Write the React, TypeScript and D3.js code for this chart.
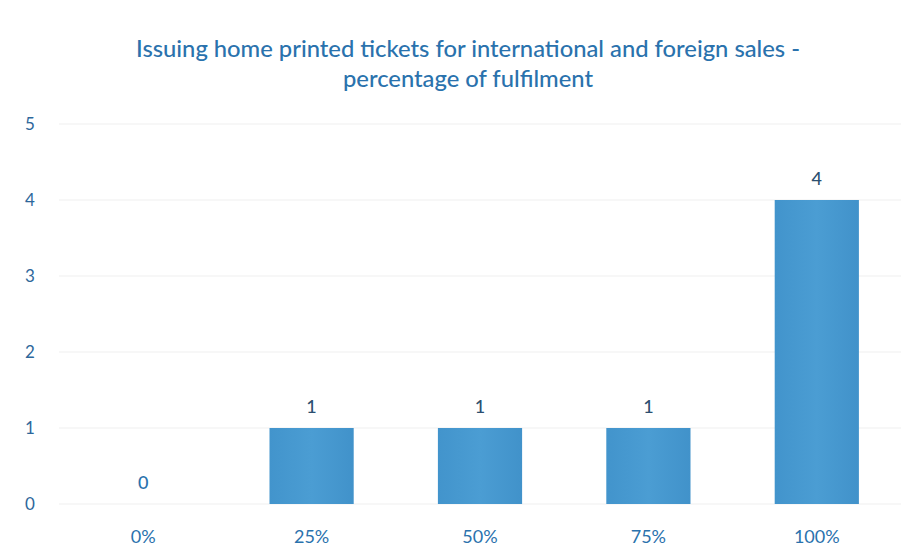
import React, { useRef, useEffect } from 'react';
import * as d3 from 'd3';

const categories = ['0%', '25%', '50%', '75%', '100%'];
const counts = [0, 1, 1, 1, 4];
const yTicks = [0, 1, 2, 3, 4, 5];
const titleLines = [
  'Issuing home printed tickets for international and foreign sales -',
  'percentage of fulfilment',
];
const titleWidths = [664, 250];

const App = () => {
  const chartRef = useRef<SVGSVGElement>(null);

  useEffect(() => {
    const width = 923;
    const height = 558;
    const margin = { top: 124, right: 22, bottom: 54, left: 59 };

    const svg = d3.select(chartRef.current);
    svg.selectAll('*').remove();

    const data = categories.map((c, i) => ({ cat: c, value: counts[i] }));

    const x = d3
      .scaleBand()
      .domain(categories)
      .range([margin.left, width - margin.right])
      .paddingInner(0.5)
      .paddingOuter(0.25);

    const y = d3
      .scaleLinear()
      .domain([0, 5])
      .range([height - margin.bottom, margin.top]);

    const defs = svg.append('defs');
    const grad = defs
      .append('linearGradient')
      .attr('id', 'barGrad')
      .attr('x1', 0)
      .attr('x2', 1)
      .attr('y1', 0)
      .attr('y2', 0);
    grad.append('stop').attr('offset', '0%').attr('stop-color', '#4294cc');
    grad.append('stop').attr('offset', '50%').attr('stop-color', '#4b9dd3');
    grad.append('stop').attr('offset', '100%').attr('stop-color', '#4192ca');

    svg.append('rect').attr('width', width).attr('height', height).attr('fill', '#ffffff');

    // title
    svg
      .append('g')
      .selectAll('text')
      .data(titleLines)
      .enter()
      .append('text')
      .attr('x', 468)
      .attr('y', (d, i) => 57 + i * 30)
      .attr('text-anchor', 'middle')
      .attr('textLength', (d, i) => titleWidths[i])
      .attr('lengthAdjust', 'spacingAndGlyphs')
      .style('font-family', 'Lato, sans-serif')
      .style('font-size', '23px')
      .style('font-weight', 500)
      .style('fill', '#2a72ad')
      .text(d => d);

    // gridlines
    svg
      .append('g')
      .selectAll('line')
      .data(yTicks)
      .enter()
      .append('line')
      .attr('x1', margin.left)
      .attr('x2', width - margin.right)
      .attr('y1', d => y(d))
      .attr('y2', d => y(d))
      .attr('stroke', '#efefef')
      .attr('stroke-width', 1);

    // y labels
    svg
      .append('g')
      .selectAll('text')
      .data(yTicks)
      .enter()
      .append('text')
      .attr('x', 30)
      .attr('y', d => y(d))
      .attr('dy', '0.35em')
      .attr('text-anchor', 'middle')
      .style('font-family', 'Lato, sans-serif')
      .style('font-size', '17px')
      .style('fill', '#2d679b')
      .text(d => d);

    // bars
    svg
      .append('g')
      .selectAll('rect')
      .data(data)
      .enter()
      .append('rect')
      .attr('x', d => x(d.cat)!)
      .attr('y', d => y(d.value))
      .attr('width', x.bandwidth())
      .attr('height', d => y(0) - y(d.value))
      .attr('fill', 'url(#barGrad)');

    // value labels
    svg
      .append('g')
      .selectAll('text')
      .data(data)
      .enter()
      .append('text')
      .attr('x', d => x(d.cat)! + x.bandwidth() / 2)
      .attr('y', d => y(d.value) - 15)
      .attr('text-anchor', 'middle')
      .style('font-family', 'Lato, sans-serif')
      .style('font-size', '18px')
      .style('font-weight', 500)
      .style('fill', d => (d.value === 0 ? '#2a72ad' : '#2c4f70'))
      .text(d => d.value);

    // x labels
    svg
      .append('g')
      .selectAll('text')
      .data(categories)
      .enter()
      .append('text')
      .attr('x', d => x(d)! + x.bandwidth() / 2)
      .attr('y', height - margin.bottom + 39)
      .attr('text-anchor', 'middle')
      .style('font-family', 'Lato, sans-serif')
      .style('font-size', '18px')
      .style('fill', '#2a72ad')
      .text(d => d);
  }, []);

  return (
    <svg
      ref={chartRef}
      width={923}
      height={558}
      style={{ position: 'absolute', left: 0, top: 0, display: 'block' }}
    />
  );
};

export default App;
